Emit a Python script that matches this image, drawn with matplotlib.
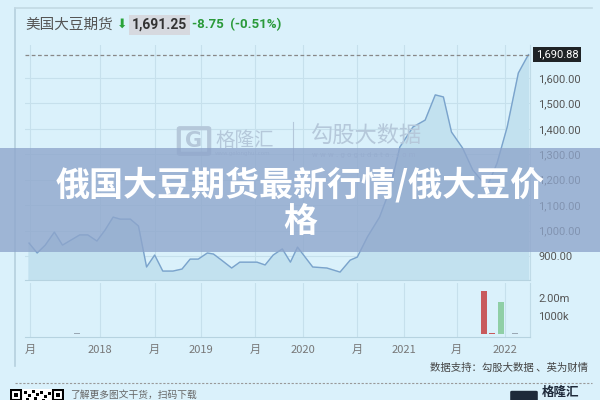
import matplotlib
matplotlib.use("Agg")
import matplotlib.pyplot as plt
from matplotlib.patches import Rectangle, FancyBboxPatch
from matplotlib.lines import Line2D

plt.rcParams['font.family'] = ['Noto Sans CJK SC', 'DejaVu Sans']

# price series (x in fractional years)
dates = [2017.30, 2017.38, 2017.46, 2017.55, 2017.63, 2017.80, 2017.88, 2017.97,
         2018.05, 2018.13, 2018.20, 2018.30, 2018.38, 2018.46, 2018.54, 2018.62,
         2018.72, 2018.81, 2018.89, 2018.97, 2019.06, 2019.12, 2019.20, 2019.30,
         2019.38, 2019.46, 2019.55, 2019.63, 2019.71, 2019.80, 2019.88, 2019.95,
         2020.10, 2020.24, 2020.37, 2020.47, 2020.54, 2020.64, 2020.76, 2020.86,
         2020.96, 2021.09, 2021.21, 2021.31, 2021.39, 2021.47, 2021.58, 2021.68,
         2021.82, 2021.92, 2022.02, 2022.13, 2022.20, 2022.23]
prices = [951, 912, 943, 994, 943, 983, 983, 959,
          1002, 1053, 1045, 1045, 1018, 857, 904, 841,
          841, 849, 888, 888, 912, 908, 884, 853,
          876, 876, 876, 865, 904, 928, 876, 935,
          857, 853, 837, 884, 896, 975, 1053, 1159,
          1328, 1407, 1434, 1533, 1525, 1387, 1324, 1238,
          1171, 1265, 1407, 1619, 1670, 1691]
last_price = 1690.88

# volume (millions)
vol_dates = [2017.77, 2021.79, 2021.87, 2021.96, 2022.10]
vol_values = [0.04, 2.39, 0.05, 1.78, 0.04]
vol_colors = ['#9aa8b4', '#c85a5c', '#c85a5c', '#8fcfa6', '#9aa8b4']

price_ticks = [900, 1000, 1100, 1200, 1300, 1400, 1500, 1600]
x_ticks = [2017.31, 2018.0, 2018.54, 2019.0, 2019.53, 2020.0, 2020.54, 2021.0, 2021.52, 2022.0]
x_labels = ['月', '2018', '月', '2019', '月', '2020', '月', '2021', '月', '2022']

bg = '#daf1fb'
grid_c = '#c6e0ec'
txt_c = '#555555'

W, H = 600, 400
fig = plt.figure(figsize=(6, 4), dpi=100, facecolor=bg)


def rect(l, t, r, b):
    return [l / W, 1 - b / H, (r - l) / W, (b - t) / H]


def fx(x):
    return x / W


def fy(y):
    return 1 - y / H


# card edges
fig.add_artist(Line2D([fx(15), fx(15)], [fy(8), fy(366)], color='#b5d0de', lw=1.2))
fig.add_artist(Line2D([fx(15), fx(592)], [fy(8), fy(8)], color='#c3d9e4', lw=1.2))

# price panel
ax = fig.add_axes(rect(25, 45, 530, 280))
ax.set_facecolor(bg)
ax.plot(dates, prices, color='#7aa3cc', lw=1.0, zorder=3)
ax.fill_between(dates, prices, 0, color='#c2e1ef', zorder=2)
ax.axhline(last_price, color='#888888', lw=0.9, ls=(0, (3, 2)), zorder=4)
ax.set_xlim(2017.26, 2022.245)
ax.set_ylim(806, 1729)
ax.set_yticks(price_ticks)
ax.set_yticklabels([f'{v:,.2f}' for v in price_ticks], family='Roboto')
ax.yaxis.tick_right()
ax.tick_params(axis='y', length=0, labelsize=8, labelcolor=txt_c, pad=6)
ax.set_xticks(x_ticks)
ax.tick_params(axis='x', length=0, labelbottom=False)
ax.grid(True, color=grid_c, lw=0.8)
for s in ['top', 'left']:
    ax.spines[s].set_visible(False)
ax.spines['right'].set_color('#c0dbe7')
ax.spines['bottom'].set_color('#b6d3e0')
ax.text(1.012, (last_price - 806) / (1729 - 806), f'{last_price:,.2f}', transform=ax.transAxes,
        ha='left', va='center', color='white', fontsize=8, family='Roboto', zorder=6,
        bbox=dict(boxstyle='square,pad=0.25', fc='#1f2326', ec='none'))

# volume panel
axv = fig.add_axes(rect(25, 283, 530, 337))
axv.set_facecolor(bg)
axv.bar(vol_dates, vol_values, width=0.06, color=vol_colors, zorder=3)
axv.set_xlim(2017.26, 2022.245)
axv.set_ylim(-0.17, 2.83)
axv.set_yticks([1.0, 2.0])
axv.set_yticklabels(['1000k', '2.00m'], family='Roboto')
axv.yaxis.tick_right()
axv.tick_params(axis='y', length=0, labelsize=8, labelcolor=txt_c, pad=6)
axv.set_xticks(x_ticks)
axv.set_xticklabels(x_labels)
axv.tick_params(axis='x', length=0, labelsize=8, labelcolor='#777777', pad=6)
axv.grid(True, axis='x', color=grid_c, lw=0.8)
for s in ['top', 'left']:
    axv.spines[s].set_visible(False)
axv.spines['right'].set_color('#c0dbe7')
axv.spines['bottom'].set_color('#b6d3e0')

# header
fig.text(fx(25), fy(25), '美国大豆期货', fontsize=10.5, color='#555555', va='center')
fig.text(fx(117), fy(24), '⬇', fontsize=9, color='#2aa43a', va='center', family='DejaVu Sans')
fig.text(fx(132), fy(25), '1,691.25', fontsize=10, color='#333333', va='center', weight='bold',
         family='Roboto', bbox=dict(boxstyle='square,pad=0.2', fc='#d6d9df', ec='none'))
fig.text(fx(192), fy(25), '-8.75  (-0.51%)', fontsize=9.5, color='#2a9a3a', va='center',
         weight='bold', family='Roboto')

# watermarks
wm = '#b5c8da'
fig.add_artist(FancyBboxPatch((fx(180), fy(153)), fx(28), 24 / H,
                              boxstyle='round,pad=0.002', fc='none', ec=wm, lw=3))
fig.text(fx(194), fy(141), 'G', fontsize=15, color=wm, ha='center', va='center',
         weight='bold', family='DejaVu Sans')
fig.text(fx(215), fy(140), '格隆汇', fontsize=14, color=wm, va='center')
fig.text(fx(215), fy(154), 'www.gelonghui.com', fontsize=4, color=wm, va='center', family='DejaVu Sans')
fig.add_artist(Line2D([fx(293), fx(293)], [fy(122), fy(160)], color=wm, lw=0.8))
fig.text(fx(310), fy(136), '勾股大数据', fontsize=16, color=wm, va='center')
fig.text(fx(312), fy(155), 'w w w . g o g u d a t a . c o m', fontsize=5, color=wm, va='center',
         family='DejaVu Sans')

# banner overlay
fig.add_artist(Rectangle((0, fy(252)), 1, (252 - 148) / H, transform=fig.transFigure,
                         fc='#8ea5cb', alpha=0.78, ec='none', zorder=10))
fig.text(0.5, fy(185), '俄国大豆期货最新行情/俄大豆价', fontsize=24.5, color='white',
         ha='center', va='center', weight='black', zorder=11)
fig.text(0.5, fy(222), '格', fontsize=24.5, color='white', ha='center', va='center',
         weight='black', zorder=11)

# footer
fig.text(fx(588), fy(368), '数据支持：勾股大数据 、英为财情', fontsize=7.5, color='#444444',
         ha='right', va='center')
fig.add_artist(Line2D([fx(15), fx(592)], [fy(383), fy(383)], color='#999999', lw=0.8,
                      ls=(0, (2, 1.5))))
# qr code corner
qr = fig.add_axes(rect(10, 389, 64, 410))
qr.set_xlim(0, 54)
qr.set_ylim(21, 0)
qr.axis('off')
qr.add_patch(Rectangle((0, 0), 54, 21, fc='white', ec='none'))
for x0 in [1, 43]:
    qr.add_patch(Rectangle((x0, 1), 10, 10, fc='none', ec='black', lw=1.5))
    qr.add_patch(Rectangle((x0 + 3, 4), 4, 4, fc='black', ec='none'))
for x0, y0 in [(14, 2), (18, 5), (22, 1), (26, 4), (30, 2), (34, 6), (38, 3), (16, 9), (24, 8), (32, 10), (20, 12), (28, 13)]:
    qr.add_patch(Rectangle((x0, y0), 3, 3, fc='black', ec='none'))
fig.text(fx(70), fy(390), '了解更多图文干货，扫码下载', fontsize=7, color='#666666', va='top',
         style='italic')
fig.add_artist(FancyBboxPatch((fx(512), fy(412)), fx(24), 20 / H, boxstyle='round,pad=0.003',
                              fc='#1e2a3a', ec='none'))
fig.text(fx(542), fy(399), '格隆汇', fontsize=9, color='#1e2a3a', va='bottom', weight='bold')

fig.savefig('out.png', dpi=100, facecolor=bg)
